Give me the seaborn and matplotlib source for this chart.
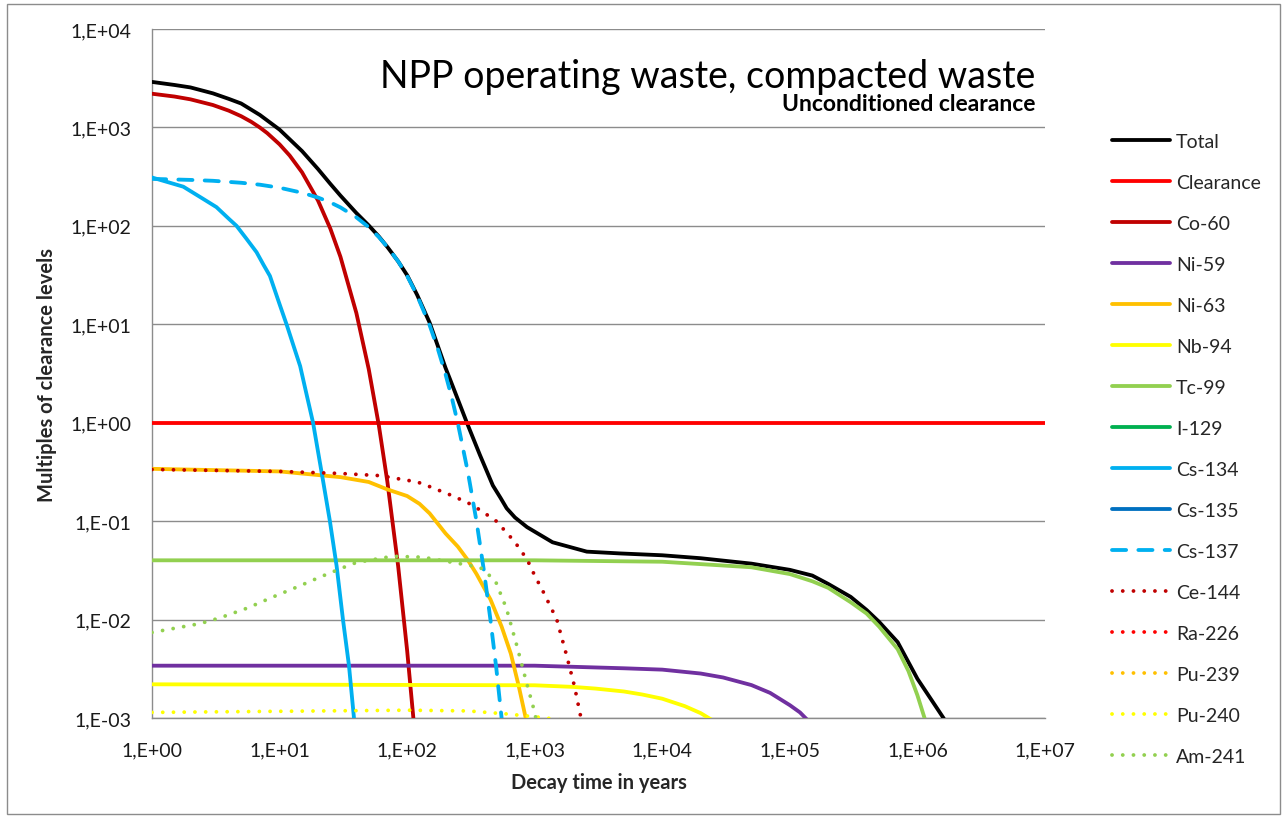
import matplotlib
matplotlib.use("Agg")
import numpy as np
import pandas as pd
import matplotlib.pyplot as plt
import seaborn as sns
from matplotlib.ticker import FixedLocator, FuncFormatter, NullLocator, NullFormatter
from matplotlib.patches import Rectangle

# ---------------- data ----------------
total_t = [1, 1.5, 2, 3, 4, 5, 7, 10, 15, 20, 25, 30, 40, 50, 60, 70, 85, 100, 120, 150,
           175, 200, 216, 250, 294, 330, 372, 470, 540, 603, 700, 870, 1380, 2560, 4640,
           1e4, 2e4, 5e4, 1e5, 1.5e5, 2e5, 3e5, 4e5, 5e5, 7e5, 1e6, 1.3e6, 1.6e6, 2e6]
total_v = [2900, 2700, 2550, 2220, 1950, 1750, 1340, 950, 575, 378, 267, 203, 135, 101, 78,
           61, 43.6, 31.5, 19.8, 10.4, 5.9, 3.6, 2.8, 1.72, 1.0, 0.69, 0.47, 0.23, 0.172,
           0.135, 0.109, 0.087, 0.061, 0.049, 0.047, 0.045, 0.042, 0.037, 0.032, 0.028,
           0.023, 0.017, 0.0125, 0.0095, 0.0059, 0.0025, 0.0015, 0.001, 0.0006]

clear_t = [1, 1e7]
clear_v = [1.0, 1.0]

co60_t = [1, 1.5, 2, 3, 4, 5, 6, 7, 8, 10, 12, 15, 20, 25, 30, 40, 50, 60, 70, 85, 100, 115]
co60_v = [2200, 2060, 1930, 1690, 1480, 1300, 1140, 999, 876, 673, 518, 350, 181, 93.7,
          48.5, 13.0, 3.5, 0.94, 0.251, 0.035, 0.00484, 0.00068]

ni59_t = [1, 1e3, 5e3, 1e4, 2e4, 3e4, 5e4, 7e4, 1e5, 1.2e5, 1.5e5]
ni59_v = [0.0034, 0.0034, 0.0032, 0.0031, 0.00283, 0.00258, 0.00216, 0.0018, 0.00135,
          0.00114, 0.00085]

ni63_t = [1, 10, 30, 50, 70, 100, 125, 150, 200, 250, 300, 350, 450, 550, 650, 750, 850, 950]
ni63_v = [0.34, 0.32, 0.28, 0.25, 0.21, 0.18, 0.15, 0.12, 0.075, 0.055, 0.04, 0.029, 0.016,
          0.0085, 0.0045, 0.0021, 0.001, 0.00045]

nb94_t = [1, 1e3, 2e3, 3e3, 5e3, 7e3, 1e4, 1.5e4, 2e4, 2.5e4, 3e4]
nb94_v = [0.0022, 0.00215, 0.00207, 0.00199, 0.00186, 0.00173, 0.00157, 0.00132, 0.00112,
          0.00094, 0.0008]

tc99_t = [1, 1e3, 1e4, 5e4, 1e5, 1.5e5, 2e5, 3e5, 4e5, 5e5, 7e5, 8.5e5, 1e6, 1.2e6]
tc99_v = [0.040, 0.040, 0.0387, 0.034, 0.029, 0.0245, 0.021, 0.015, 0.0115, 0.0085, 0.005,
          0.003, 0.0017, 0.0008]

i129_t = [1, 1e7]
i129_v = [0.0008, 0.00075]

cs134_t = [1, 1.76, 2.5, 3.2, 4, 4.6, 5.5, 6.6, 7.5, 8.4, 10, 11.4, 13, 14.5, 16, 18.3,
           22, 24.8, 28, 31.4, 35, 38.3, 42]
cs134_v = [310, 250, 189, 155, 118, 100, 74, 54, 40, 31, 16, 9.8, 5.8, 3.76, 2.14, 1.0,
           0.25, 0.1, 0.035, 0.01, 0.0034, 0.001, 0.00033]

cs135_t = [1, 1e7]
cs135_v = [0.0004, 0.0004]

cs137_t = [1, 2, 3, 5, 7, 10, 15, 20, 25, 30, 40, 50, 60, 70, 85, 100, 120, 150, 175, 200,
           225, 250, 300, 350, 400, 450, 500, 550, 600]
cs137_v = [300, 293, 287, 274, 262, 244, 217, 194, 173, 154, 122, 97, 77, 61, 43.6, 31,
           19.5, 9.8, 5.5, 3.1, 1.75, 0.98, 0.31, 0.099, 0.0312, 0.0099, 0.0032, 0.001,
           0.00032]

ce144_t = [1, 10, 30, 61, 120, 143, 229, 310, 372, 500, 695, 870, 1000, 1170, 1490, 1780,
           2050, 2290, 2500]
ce144_v = [0.335, 0.32, 0.305, 0.29, 0.25, 0.23, 0.18, 0.15, 0.13, 0.10, 0.062, 0.041,
           0.028, 0.019, 0.010, 0.0043, 0.0021, 0.00104, 0.0005]

ra226_t = [1, 1e7]
ra226_v = [0.0005, 0.0005]

pu239_t = [1, 1e7]
pu239_v = [0.0006, 0.0006]

pu240_t = [1, 100, 300, 600, 1000, 1500, 2000]
pu240_v = [0.00114, 0.00120, 0.00118, 0.00110, 0.00103, 0.00097, 0.0009]

am241_t = [1, 2.38, 3.4, 5.6, 8.9, 14.4, 20.7, 33.8, 40, 77, 133, 230, 372, 490, 600, 725,
           870, 1000, 1100]
am241_v = [0.0074, 0.0091, 0.0104, 0.0131, 0.017, 0.022, 0.027, 0.035, 0.038, 0.044, 0.043,
           0.038, 0.034, 0.025, 0.013, 0.0054, 0.0022, 0.00114, 0.0006]

names = ["Total", "Clearance", "Co-60", "Ni-59", "Ni-63", "Nb-94", "Tc-99", "I-129",
         "Cs-134", "Cs-135", "Cs-137", "Ce-144", "Ra-226", "Pu-239", "Pu-240", "Am-241"]
colors = ["#000000", "#FF0000", "#C00000", "#7030A0", "#FFC000", "#FFFF00", "#92D050",
          "#00B050", "#00B0F0", "#0070C0", "#00B0F0", "#C00000", "#FF0000", "#FFC000",
          "#FFFF00", "#92D050"]
styles = ["solid"] * 10 + ["dashed"] + ["dotted"] * 5
times = [total_t, clear_t, co60_t, ni59_t, ni63_t, nb94_t, tc99_t, i129_t, cs134_t,
         cs135_t, cs137_t, ce144_t, ra226_t, pu239_t, pu240_t, am241_t]
values = [total_v, clear_v, co60_v, ni59_v, ni63_v, nb94_v, tc99_v, i129_v, cs134_v,
          cs135_v, cs137_v, ce144_v, ra226_v, pu239_v, pu240_v, am241_v]

# ---------------- figure ----------------
sns.set_style("white")
plt.rcParams['font.family'] = ['Lato', 'DejaVu Sans']

W, H = 1287, 820
fig = plt.figure(figsize=(W / 100, H / 100), dpi=100)
L, R, T, B = 152, 1045, 30, 719
ax = fig.add_axes([L / W, 1 - B / H, (R - L) / W, (B - T) / H])
ax.set_xscale("log")
ax.set_yscale("log")

grey = "#8c8c8c"
lw = 2.75
handles = []
for i, (nm, t, v, c, st) in enumerate(zip(names, times, values, colors, styles)):
    df = pd.DataFrame({"t": t, "v": v})
    sns.lineplot(data=df, x="t", y="v", ax=ax, color=c, linewidth=lw,
                 estimator=None, sort=False, legend=False, zorder=3 + i)
    ln = ax.get_lines()[-1]
    ln.set_label(nm)
    ln.set_solid_joinstyle("round")
    if st == "dashed":
        ln.set_linestyle((0, (3.7, 3.2)))
        ln.set_dash_capstyle("round")
    elif st == "dotted":
        ln.set_linestyle((0, (0.01, 2.8)))
        ln.set_dash_capstyle("round")
    else:
        ln.set_solid_capstyle("round")
    handles.append(ln)

ax.set_xlim(1, 1e7)
ax.set_ylim(1e-3, 1e4)

fmt = FuncFormatter(lambda v, p: "1,E{:+03d}".format(int(round(np.log10(v)))))
ax.xaxis.set_major_locator(FixedLocator([10.0 ** k for k in range(0, 8)]))
ax.xaxis.set_minor_locator(FixedLocator([m * 10.0 ** k for k in range(0, 7) for m in range(2, 10)]))
ax.xaxis.set_major_formatter(fmt)
ax.xaxis.set_minor_formatter(NullFormatter())
ax.yaxis.set_major_locator(FixedLocator([10.0 ** k for k in range(-3, 5)]))
ax.yaxis.set_minor_locator(NullLocator())
ax.yaxis.set_major_formatter(fmt)

ax.tick_params(axis="both", which="major", direction="out", length=6, width=1,
               color=grey, labelsize=14, labelcolor="#1a1a1a")
ax.tick_params(axis="x", which="major", pad=11)
ax.tick_params(axis="y", which="major", pad=9)
ax.tick_params(axis="x", which="minor", direction="out", length=4, width=1, color=grey)

ax.yaxis.grid(True, which="major", color=grey, linewidth=1.0)
ax.xaxis.grid(False)
for s in ["top", "right"]:
    ax.spines[s].set_visible(False)
for s in ["left", "bottom"]:
    ax.spines[s].set_color(grey)
    ax.spines[s].set_linewidth(1.0)
ax.set_xlabel("")
ax.set_ylabel("")

# titles
fig.text(1035 / W, 1 - 88 / H, "NPP operating waste, compacted waste", ha="right",
         va="baseline", fontsize=27, color="#000000")
fig.text(1035 / W, 1 - 111 / H, "Unconditioned clearance", ha="right", va="baseline",
         fontsize=16.5, fontweight="bold", color="#000000")

# axis labels
fig.text((L + R) / 2 / W, 1 - 789 / H, "Decay time in years", ha="center", va="baseline",
         fontsize=14.5, fontweight="bold")
fig.text(47 / W, 1 - (T + B) / 2 / H, "Multiples of clearance levels", ha="center",
         va="center", rotation=90, fontsize=14.5, fontweight="bold")

# legend
fig.legend(handles=handles, labels=names, loc="upper left",
           bbox_to_anchor=(1112 / W, 1 - 134 / H), bbox_transform=fig.transFigure,
           frameon=False, fontsize=14, handlelength=3.0, handletextpad=0.3,
           labelspacing=1.235, borderpad=0, borderaxespad=0)

# outer chart border
fig.add_artist(Rectangle((7 / W, 5 / H), (1280 - 7) / W, (815 - 5) / H,
                         transform=fig.transFigure, fill=False, edgecolor=grey, lw=1))

fig.savefig("out.png", dpi=100)
